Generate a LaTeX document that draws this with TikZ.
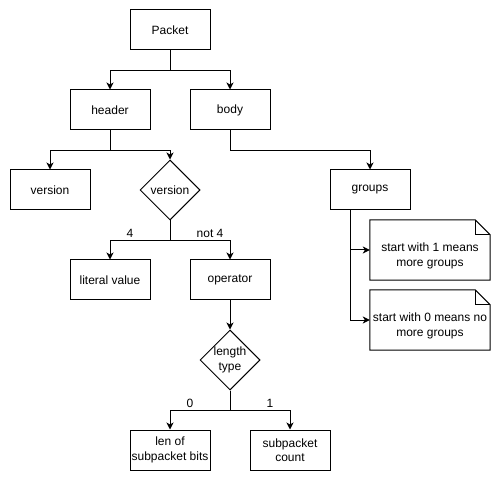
\documentclass[tikz,border=0pt]{standalone}
\usepackage{fontspec}
\setmainfont{Liberation Sans}
\usetikzlibrary{shapes.geometric,arrows.meta}
\begin{document}
\begin{tikzpicture}[x=1pt,y=-1pt,
  every node/.style={font=\fontsize{12pt}{14.5pt}\selectfont, inner sep=0pt},
  box/.style={draw, line width=1pt, minimum width=80pt, minimum height=40pt, align=center},
  choice/.style={draw, line width=1pt, diamond, minimum width=60pt, minimum height=60pt, align=center},
  notebox/.style={minimum width=120pt, minimum height=60pt},
  notetext/.style={align=center},
  arr/.style={line width=1pt, -{Stealth[length=7pt,width=7pt,inset=2pt]}},
  lbl/.style={font=\fontsize{12pt}{14pt}\selectfont}]
  \useasboundingbox (0,0) rectangle (501,481);
  \fill[white] (0,0) rectangle (501,481);

  % boxes and decisions
  \node[box] (packet) at (170,30) {Packet};
  \node[box] (header) at (110,110) {header};
  \node[box] (body) at (230,110) {body};
  \node[box] (version) at (50,190) {version};
  \node[choice] (vcheck) at (170,190) {version};
  \node[box] (groups) at (370,190) {groups};
  \node[box] (literal) at (110,280) {literal value};
  \node[box] (operator) at (230,280) {operator};
  \node[choice] (ltype) at (230,360) {length\\type};
  \node[box] (lenbits) at (170,450) {len of\\subpacket bits};
  \node[box] (count) at (290,450) {subpacket\\count};

  % notes with folded corner
  \node[notebox] (note1) at (430,250) {};
  \node[notebox] (note0) at (430,320) {};
  \foreach \n in {note1,note0}{
    \draw[line width=1pt, line join=miter]
      (\n.south west) -- (\n.north west) -- ([xshift=-15pt]\n.north east)
      -- ([yshift=-15pt]\n.north east) -- (\n.south east) -- cycle;
    \draw[line width=1pt]
      ([xshift=-15pt]\n.north east) -- ([xshift=-15pt,yshift=-15pt]\n.north east)
      -- ([yshift=-15pt]\n.north east);
  }
  \node[notetext] (note1txt) at ([yshift=-6pt]note1.center) {start with 1 means\\more groups};
  \node[notetext] (note0txt) at ([yshift=-6pt]note0.center) {start with 0 means no\\more groups};

  % connectors
  \draw[arr] (packet.south) -- ++(0,20) -| (header.north);
  \draw[arr] (packet.south) -- ++(0,20) -| (body.north);
  \draw[arr] (header.south) -- ++(0,20) -| (version.north);
  \draw[arr] (header.south) -- ++(0,20) -| (vcheck.north);
  \draw[arr] (body.south) -- ++(0,20) -| (groups.north);
  \coordinate (gsplit) at ([xshift=-20pt]groups.south);
  \draw[arr] (gsplit) |- (note1.west);
  \draw[arr] (gsplit) |- (note0.west);
  \draw[arr] (vcheck.south) -- ++(0,20) -| (literal.north);
  \draw[arr] (vcheck.south) -- ++(0,20) -| (operator.north);
  \draw[arr] (operator.south) -- (ltype.north);
  \draw[arr] (ltype.south) -- ++(0,20) -| (lenbits.north);
  \draw[arr] (ltype.south) -- ++(0,20) -| (count.north);

  % branch labels
  \node[lbl] (l4) at (130,233) {4};
  \node[lbl] (lnot4) at (210,233) {not 4};
  \node[lbl] (l0) at (190,403) {0};
  \node[lbl] (l1) at (270,403) {1};
\end{tikzpicture}
\end{document}
